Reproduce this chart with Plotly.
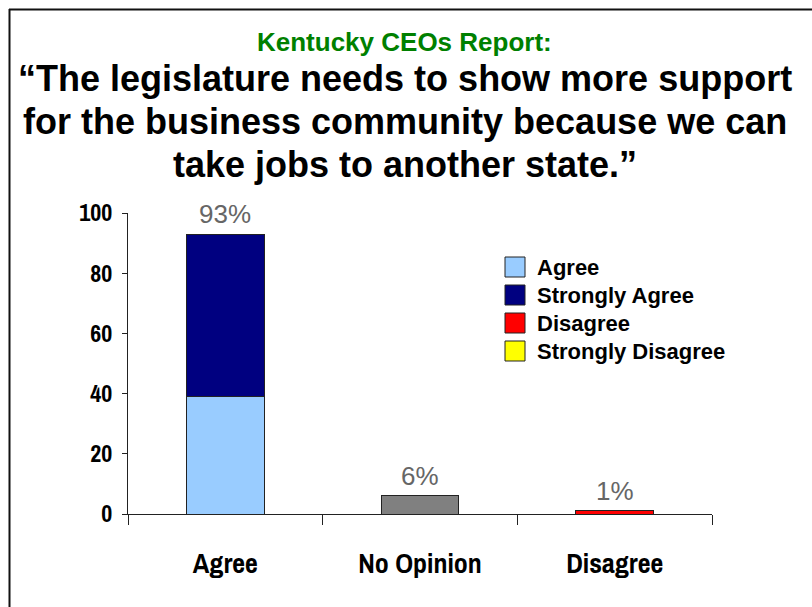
import plotly.graph_objects as go

# Response categories on the x axis
categories = ["Agree", "No Opinion", "Disagree"]

# Stacked series (percent of respondents)
series_names = ["Agree", "Strongly Agree", "Disagree", "Strongly Disagree"]
agree = [39, None, None]
strongly_agree = [54, None, None]
disagree = [None, None, 1]
strongly_disagree = [None, None, 0]
no_opinion = [None, 6, None]

# Total shown above each column
totals = [93, 6, 1]

y_ticks = [0, 20, 40, 60, 80, 100]

colors = {
    "Agree": "#99CCFF",
    "Strongly Agree": "#000080",
    "Disagree": "#FF0000",
    "Strongly Disagree": "#FFFF00",
    "No Opinion": "#808080",
}

series_values = {
    "Agree": agree,
    "Strongly Agree": strongly_agree,
    "Disagree": disagree,
    "Strongly Disagree": strongly_disagree,
}

NARROW = "Archivo Narrow, Roboto Condensed, PT Sans Narrow, sans-serif"
SANS = "Liberation Sans, Arial, sans-serif"

fig = go.Figure()
for name in series_names:
    fig.add_trace(go.Bar(
        x=categories, y=series_values[name], name=name,
        marker=dict(color=colors[name], line=dict(color="#222222", width=1)),
        showlegend=False,
    ))
fig.add_trace(go.Bar(
    x=categories, y=no_opinion, name="No Opinion",
    marker=dict(color=colors["No Opinion"], line=dict(color="#222222", width=1)),
    showlegend=False,
))

# Percentage labels above the columns
for cat, tot in zip(categories, totals):
    fig.add_annotation(
        x=cat, y=tot, text=f"{tot}%", showarrow=False,
        yanchor="bottom", yshift=3,
        font=dict(family=SANS, size=26, color="#666666"),
    )

# Plot area geometry (pixels) used to place the frame, titles and legend
L, R, T, B = 128, 100, 213, 93
W_PX, H_PX = 812, 607
pw = W_PX - L - R
ph = H_PX - T - B


def px_x(px):
    return (px - L) / pw


def px_y(py):
    return (H_PX - B - py) / ph


# Outer frame (top and left rules)
fig.add_shape(type="line", xref="paper", yref="paper",
              x0=px_x(9), x1=px_x(830), y0=px_y(9.5), y1=px_y(9.5),
              line=dict(color="#111111", width=2))
fig.add_shape(type="line", xref="paper", yref="paper",
              x0=px_x(9.5), x1=px_x(9.5), y0=px_y(9), y1=px_y(620),
              line=dict(color="#111111", width=2))

# Titles
fig.add_annotation(xref="paper", yref="paper", x=px_x(404), y=px_y(42),
                   text="<b>Kentucky CEOs Report:</b>", showarrow=False,
                   xanchor="center", yanchor="middle",
                   font=dict(family=SANS, size=26, color="#008000"))
title_lines = [
    "\u201cThe legislature needs to show more support",
    "for the business community because we can",
    "take jobs to another state.\u201d",
]
for i, line in enumerate(title_lines):
    fig.add_annotation(xref="paper", yref="paper", x=px_x(405), y=px_y(78 + 43.3 * i),
                       text=f"<b>{line}</b>", showarrow=False,
                       xanchor="center", yanchor="middle",
                       font=dict(family=SANS, size=36, color="#000000"))

# Legend: swatch + label per series
for i, name in enumerate(series_names):
    cy = 267 + 28 * i
    fig.add_shape(type="rect", xref="paper", yref="paper",
                  x0=px_x(505), x1=px_x(525), y0=px_y(cy - 10), y1=px_y(cy + 10),
                  fillcolor=colors[name], line=dict(color="#222222", width=1))
    fig.add_annotation(xref="paper", yref="paper", x=px_x(535), y=px_y(cy),
                       text=f"<b>{name}</b>", showarrow=False,
                       xanchor="left", yanchor="middle",
                       font=dict(family=SANS, size=22, color="#000000"))

fig.update_layout(
    width=W_PX, height=H_PX,
    margin=dict(l=L, r=R, t=T, b=B, pad=0),
    paper_bgcolor="white", plot_bgcolor="white",
    barmode="stack", bargap=0.6,
    showlegend=False,
)
fig.update_xaxes(
    type="category", showline=True, linecolor="#222222", linewidth=1,
    ticks="outside", tickson="boundaries", ticklen=10, tickcolor="#222222",
    showgrid=False, ticklabelstandoff=24,
    tickfont=dict(family=NARROW, size=28, color="#000000", weight="bold"),
)
fig.update_yaxes(
    range=[0, 100], tickvals=y_ticks, showline=True, linecolor="#222222", linewidth=1,
    ticks="outside", ticklen=5, tickcolor="#222222", showgrid=False, zeroline=False,
    tickfont=dict(family=NARROW, size=24, color="#000000", weight="bold"),
    ticklabelstandoff=5,
)

fig.write_html("out.html")
